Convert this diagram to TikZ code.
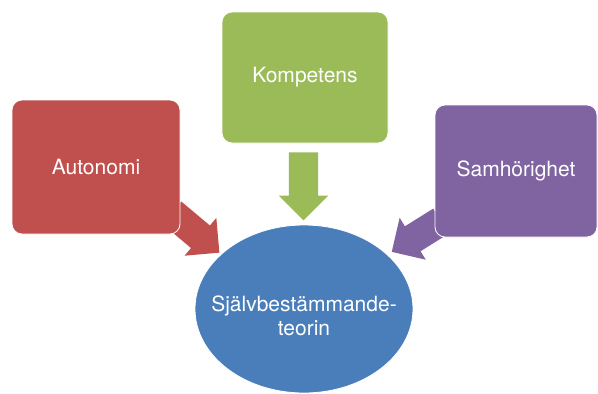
\documentclass[tikz,border=0pt]{standalone}
\usepackage{fontspec}
\setmainfont{TeX Gyre Heros}
\usetikzlibrary{shapes.arrows, shapes.geometric, positioning}
\definecolor{autred}{HTML}{C0504D}
\definecolor{kompgreen}{HTML}{9BBB59}
\definecolor{samhpurple}{HTML}{8064A2}
\definecolor{sdtblue}{HTML}{4A7EBB}

\begin{document}
\begin{tikzpicture}[
        x=1pt, y=-1pt,
        font=\fontsize{21}{24}\selectfont,
        need/.style={fill=#1, draw=white, line width=0.8pt, rounded corners=10pt, text=white, align=center, inner sep=0pt},
        blockarrow/.style={single arrow, fill=#1, draw=none, minimum width=49pt, single arrow head extend=10pt, single arrow head indent=0pt, inner xsep=0pt, inner ysep=14.5pt}
      ]
        \useasboundingbox[fill=white] (0,0) rectangle (598,394);
        % block arrows behind the boxes
        \node[blockarrow=autred, minimum height=62pt, rotate=-40] (aarrow) at (190,228) {};
        \node[blockarrow=kompgreen, minimum height=68pt, rotate=-90] (karrow) at (303.5,179) {};
        \node[blockarrow=samhpurple, minimum height=58pt, rotate=-148] (sarrow) at (422.6,232.6) {};

        \node[need=autred, minimum width=168pt, minimum height=134pt] (auto) at (96,167) {Autonomi};
        \node[need=kompgreen, minimum width=166pt, minimum height=131pt] (komp) at (305,77.5) {Kompetens};
        \node[need=samhpurple, minimum width=162pt, minimum height=132pt] (samh) at (516,171) {Samhörighet};

        \node[ellipse, fill=sdtblue, draw=white, line width=0.8pt, minimum width=218pt, minimum height=168pt, inner sep=0pt] (sdt) at (304,309) {};
        \node[text=white, align=center] (sdttext) at (304,316) {Självbestämmande-\\teorin};
    \end{tikzpicture}
\end{document}
